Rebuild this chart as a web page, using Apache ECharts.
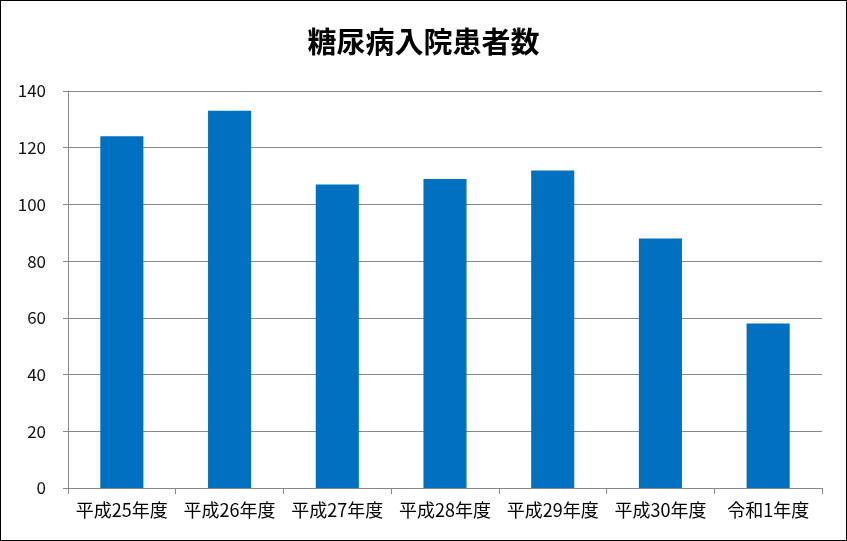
<!DOCTYPE html>
<html>
<head>
<meta charset="utf-8">
<script src="https://cdn.jsdelivr.net/npm/echarts@6/dist/echarts.min.js"></script>
<style>
html,body{margin:0;padding:0;background:#fff;}
#c{width:847px;height:541px;box-sizing:border-box;border:1px solid #000;}
</style>
</head>
<body>
<div id="c"></div>
<script>
const titleText = '糖尿病入院患者数';
const categories = ['平成25年度','平成26年度','平成27年度','平成28年度','平成29年度','平成30年度','令和1年度'];
const values = [124, 133, 107, 109, 112, 88, 58];
const yTicks = {min: 0, max: 140, interval: 20};

const chart = echarts.init(document.getElementById('c'), null, {renderer: 'canvas'});
const font = '"Noto Sans CJK JP", "Noto Sans", sans-serif';
chart.setOption({
  animation: false,
  textStyle: {fontFamily: font},
  title: {
    text: titleText, left: 'center', top: 21,
    textStyle: {fontSize: 29, fontWeight: 'bold', color: '#000', fontFamily: font}
  },
  grid: {left: 67, right: 24, top: 90, bottom: 52, containLabel: false},
  xAxis: {
    type: 'category', data: categories,
    axisLine: {lineStyle: {color: '#888', width: 1}},
    axisTick: {show: true, alignWithLabel: false, length: 6, lineStyle: {color: '#888'}},
    axisLabel: {color: '#000', fontSize: 18, margin: 13, interval: 0, fontFamily: font}
  },
  yAxis: {
    type: 'value', min: yTicks.min, max: yTicks.max, interval: yTicks.interval,
    axisLine: {show: true, lineStyle: {color: '#888', width: 1}},
    axisTick: {show: true, length: 5, lineStyle: {color: '#888'}},
    splitLine: {lineStyle: {color: '#888', width: 1}},
    axisLabel: {color: '#111', fontSize: 17, margin: 22, fontFamily: font}
  },
  series: [{
    type: 'bar', data: values, barWidth: '40%',
    itemStyle: {color: '#0070C0'}
  }]
});
</script>
</body>
</html>
